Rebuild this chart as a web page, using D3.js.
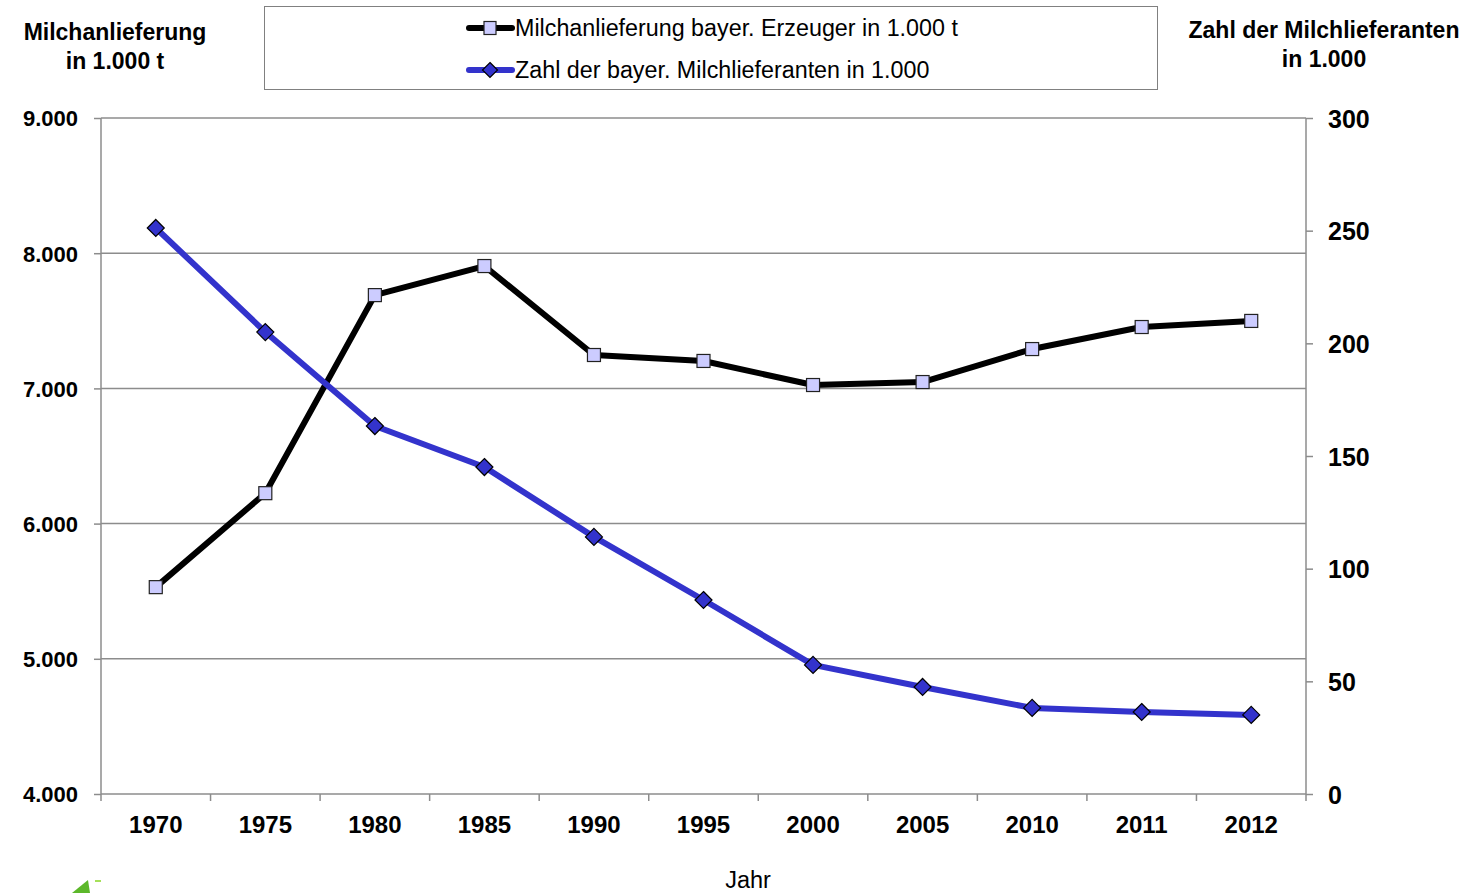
<!DOCTYPE html>
<html><head><meta charset="utf-8">
<script src="https://cdn.jsdelivr.net/npm/d3@7"></script>
<style>body{margin:0;background:#fff}svg{display:block}text{font-family:"Liberation Sans",Arial,sans-serif}</style>
</head><body>
<svg id="c" width="1467" height="893"></svg>
<script>
const years = ["1970","1975","1980","1985","1990","1995","2000","2005","2010","2011","2012"];
const milk = [5530,6225,7690,7905,7247,7203,7025,7047,7291,7454,7499];
const suppliers = [251.2,205,163.3,145.1,114.1,86.1,57.3,47.5,38.2,36.4,35.1];
const leftTicks = [4000,5000,6000,7000,8000,9000];
const rightTicks = [0,50,100,150,200,250,300];
const seriesNames = ["Milchanlieferung bayer. Erzeuger in 1.000 t","Zahl der bayer. Milchlieferanten in 1.000"];

const FF = '"Liberation Sans",Arial,sans-serif';
const svg = d3.select("#c");
const L=101, R=1306, T=118, B=794;
const x = d3.scaleBand().domain(years).range([L,R]);
const yL = d3.scaleLinear().domain([4000,9000]).range([B,T]);
const yR = d3.scaleLinear().domain([0,300]).range([B,T]);
const fmt = d => d3.format(",")(d).replace(/,/g,".");
const grid="#8c8c8c";

svg.append("g").selectAll("line").data(leftTicks.slice(1)).join("line")
 .attr("x1",L).attr("x2",R).attr("y1",d=>yL(d)).attr("y2",d=>yL(d))
 .attr("stroke",grid).attr("stroke-width",1.5);

const gl = svg.append("g").attr("transform",`translate(${L},0)`)
 .call(d3.axisLeft(yL).tickValues(leftTicks).tickFormat(fmt).tickSize(7).tickPadding(16));
const gr = svg.append("g").attr("transform",`translate(${R},0)`)
 .call(d3.axisRight(yR).tickValues(rightTicks).tickFormat(d=>d).tickSize(7).tickPadding(15));
const gb = svg.append("g").attr("transform",`translate(0,${B})`)
 .call(d3.axisBottom(x).tickSize(0).tickPadding(22));
const bounds = years.map(y=>x(y)).concat([R]);
gb.append("g").selectAll("line").data(bounds).join("line")
 .attr("x1",d=>d).attr("x2",d=>d).attr("y1",0).attr("y2",7).attr("stroke",grid).attr("stroke-width",1.5);
[[gl,22],[gr,25],[gb,24]].forEach(([g,fs])=>{
  g.select(".domain").attr("stroke",grid).attr("stroke-width",1.5);
  g.selectAll(".tick line").attr("stroke",grid).attr("stroke-width",1.5);
  g.selectAll(".tick text").attr("fill","#000").style("font-size",fs+"px").style("font-weight","bold")
   .style("font-family",FF);
});
gb.select(".domain").attr("d",`M${L},0H${R}`);
gl.select(".domain").attr("d",`M0,${T}V${B}`);
gr.select(".domain").attr("d",`M0,${T}V${B}`);
gl.selectAll(".tick text").attr("dy","0.36em");
gr.selectAll(".tick text").attr("dy","0.36em");

const cx = d=>x(d)+x.bandwidth()/2;
const blue="#3333cc";
svg.append("path").datum(years.map((y,i)=>[cx(y),yL(milk[i])]))
 .attr("d",d3.line()).attr("fill","none").attr("stroke","#000").attr("stroke-width",6).attr("stroke-linejoin","round");
svg.append("path").datum(years.map((y,i)=>[cx(y),yR(suppliers[i])]))
 .attr("d",d3.line()).attr("fill","none").attr("stroke",blue).attr("stroke-width",6).attr("stroke-linejoin","round");

svg.append("g").selectAll("rect").data(years).join("rect")
 .attr("x",(d)=>cx(d)-6.5).attr("y",(d,i)=>yL(milk[i])-6.5).attr("width",13).attr("height",13)
 .attr("fill","#ccccff").attr("stroke","#222").attr("stroke-width",1.2);
const diamond = (px,py,r)=>`M${px},${py-r}L${px+r},${py}L${px},${py+r}L${px-r},${py}Z`;
svg.append("g").selectAll("path").data(years).join("path")
 .attr("d",(d,i)=>diamond(cx(d),yR(suppliers[i]),8.5))
 .attr("fill",blue).attr("stroke","#000").attr("stroke-width",1.2);

svg.append("rect").attr("x",264.5).attr("y",6.5).attr("width",893).attr("height",83)
 .attr("fill","#fff").attr("stroke","#808080").attr("stroke-width",1);
const legY=[28,70];
svg.append("line").attr("x1",469).attr("x2",512).attr("y1",legY[0]).attr("y2",legY[0]).attr("stroke","#000").attr("stroke-width",6).attr("stroke-linecap","round");
svg.append("rect").attr("x",484).attr("y",legY[0]-6.5).attr("width",12).attr("height",13).attr("fill","#ccccff").attr("stroke","#222").attr("stroke-width",1.2);
svg.append("line").attr("x1",469).attr("x2",512).attr("y1",legY[1]).attr("y2",legY[1]).attr("stroke",blue).attr("stroke-width",6).attr("stroke-linecap","round");
svg.append("path").attr("d",diamond(490,legY[1],7.5)).attr("fill",blue).attr("stroke","#000").attr("stroke-width",1.2);
svg.selectAll(".legt").data(seriesNames).join("text").attr("class","legt")
 .attr("x",515).attr("y",(d,i)=>legY[i]).attr("dy","0.36em")
 .style("font-size","23.3px").style("font-family",FF).attr("fill","#000").text(d=>d);

const tl = svg.append("text").attr("text-anchor","middle").style("font-size","23px").style("font-weight","bold").style("font-family",FF);
tl.append("tspan").attr("x",115).attr("y",40).text("Milchanlieferung");
tl.append("tspan").attr("x",115).attr("y",69).text("in 1.000 t");
const tr = svg.append("text").attr("text-anchor","middle").style("font-size","23px").style("font-weight","bold").style("font-family",FF);
tr.append("tspan").attr("x",1324).attr("y",38).text("Zahl der Milchlieferanten");
tr.append("tspan").attr("x",1324).attr("y",67).text("in 1.000");
svg.append("text").attr("x",748).attr("y",888).attr("text-anchor","middle").style("font-size","23.5px").style("font-family",FF).text("Jahr");

svg.append("path").attr("d","M72,893L88,880L90,893Z").attr("fill","#5cb82a");
svg.append("rect").attr("x",95).attr("y",880).attr("width",6).attr("height",2).attr("fill","#a6e05a");
</script>
</body></html>
